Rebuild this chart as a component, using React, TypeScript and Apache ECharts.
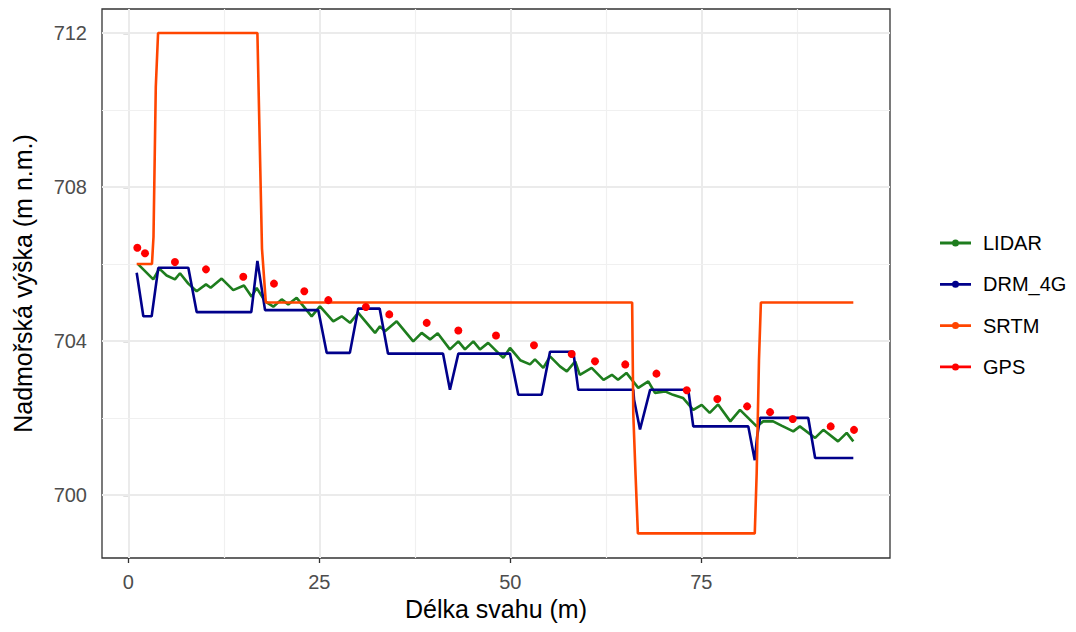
import React, { useEffect, useRef } from "react";
import * as echarts from "echarts";

// Axis breaks
const xMajor = [0, 25, 50, 75];
const xMinor = [12.5, 37.5, 62.5, 87.5];
const yMajor = [700, 704, 708, 712];
const yMinor = [702, 706, 710];

// Slope profile: [distance along slope (m), elevation (m a.s.l.)]
const lidar: [number, number][] = [
  [1.31, 705.99], [3.27, 705.6], [4.06, 705.88], [5.02, 705.7], [6.11, 705.6],
  [6.77, 705.76], [7.85, 705.49], [8.95, 705.29], [10.17, 705.47], [10.78, 705.38],
  [12.22, 705.62], [13.74, 705.32], [15.14, 705.44], [16.15, 705.15], [16.8, 705.38],
  [17.9, 705.03], [18.98, 704.89], [20.08, 705.08], [20.94, 704.95], [22.04, 705.12],
  [24.0, 704.64], [25.09, 704.9], [26.83, 704.51], [27.93, 704.64], [29.02, 704.47],
  [30.1, 704.73], [32.3, 704.21], [32.94, 704.38], [33.6, 704.25], [35.13, 704.51],
  [37.3, 703.99], [38.4, 704.21], [39.5, 704.04], [40.5, 704.2], [42.1, 703.78],
  [43.2, 703.99], [44.07, 703.78], [45.16, 703.99], [46.03, 703.78], [47.1, 703.95],
  [49.08, 703.56], [49.96, 703.82], [51.3, 703.5], [52.58, 703.39], [53.23, 703.52],
  [54.32, 703.3], [55.2, 703.6], [56.5, 703.34], [57.4, 703.21], [58.5, 703.47],
  [59.1, 703.12], [60.65, 703.3], [62.2, 702.99], [63.3, 703.12], [64.1, 702.99],
  [65.2, 703.17], [66.75, 702.78], [68.06, 702.95], [68.94, 702.65], [70.25, 702.69],
  [71.3, 702.6], [72.6, 702.52], [73.95, 702.21], [75.05, 702.34], [76.1, 702.13],
  [77.2, 702.35], [78.8, 701.91], [80.07, 702.21], [82.25, 701.78], [83.1, 701.91],
  [84.4, 701.91], [85.5, 701.8], [87.04, 701.65], [87.9, 701.78], [89.9, 701.48],
  [90.97, 701.69], [92.9, 701.39], [94.03, 701.61], [94.9, 701.39],
];

const drm4g: [number, number][] = [
  [1.1, 705.77], [1.97, 704.64], [3.06, 704.64], [3.93, 705.9], [7.86, 705.9],
  [8.95, 704.75], [16.1, 704.75], [16.9, 706.08], [17.9, 704.8], [24.87, 704.8],
  [25.97, 703.69], [29.0, 703.69], [30.1, 704.84], [32.9, 704.84], [34.0, 703.67],
  [41.2, 703.67], [42.1, 702.73], [43.2, 703.67], [49.96, 703.67], [51.05, 702.6],
  [54.1, 702.6], [55.2, 703.72], [58.25, 703.72], [58.9, 702.73], [66.1, 702.73],
  [66.2, 702.47], [66.98, 701.7], [68.3, 702.73], [73.3, 702.73], [73.95, 701.78],
  [81.15, 701.78], [82.0, 700.9], [82.3, 701.5], [82.7, 702.0], [89.0, 702.0],
  [89.9, 700.96], [94.9, 700.96],
];

const srtm: [number, number][] = [
  [1.1, 706], [3.1, 706], [3.3, 706.7], [3.6, 710.6], [3.9, 712], [16.9, 712],
  [17.5, 706.4], [18.0, 705], [65.95, 705], [66.1, 702.1], [66.4, 700.5],
  [66.7, 699], [82.0, 699], [82.25, 700.56], [82.55, 703.5], [82.8, 705], [94.9, 705],
];

const gps: [number, number][] = [
  [1.18, 706.42], [2.19, 706.28], [6.11, 706.05], [10.17, 705.86], [15.05, 705.67],
  [19.07, 705.49], [23.04, 705.29], [26.18, 705.06], [31.1, 704.88], [34.16, 704.69],
  [39.06, 704.47], [43.2, 704.27], [48.13, 704.14], [53.1, 703.89], [58.04, 703.66],
  [61.09, 703.47], [65.05, 703.39], [69.13, 703.15], [73.1, 702.72], [77.1, 702.49],
  [81.0, 702.3], [84.0, 702.15], [86.97, 701.97], [91.94, 701.78], [94.99, 701.69],
];

const FONT = "'Liberation Sans', Arial, sans-serif";
const LEGEND_ICON =
  "path://M0,2.6L31,2.6L31,5.4L0,5.4Z M15.5,0.5A3.5,3.5,0,1,1,15.5,7.5A3.5,3.5,0,1,1,15.5,0.5Z";

export default function App() {
  const ref = useRef<HTMLDivElement>(null);

  useEffect(() => {
    if (!ref.current) return;
    const chart = echarts.init(ref.current, null, { renderer: "svg" });

    const major = { color: "#EBEBEB", width: 2, type: "solid" };
    const minor = { color: "#F0F0F0", width: 1.2, type: "solid" };
    const gridLines = [
      ...xMajor.map((v) => ({ xAxis: v, lineStyle: major })),
      ...xMinor.map((v) => ({ xAxis: v, lineStyle: minor })),
      ...yMajor.map((v) => ({ yAxis: v, lineStyle: major })),
      ...yMinor.map((v) => ({ yAxis: v, lineStyle: minor })),
    ];

    const lineSeries = (name: string, data: [number, number][], color: string) => ({
      name,
      type: "line",
      data,
      showSymbol: false,
      symbol: "none",
      color,
      lineStyle: { color, width: 2.6 },
      z: 3,
    });

    chart.setOption({
      animation: false,
      backgroundColor: "#ffffff",
      textStyle: { fontFamily: FONT },
      grid: {
        left: 102,
        top: 9,
        width: 788,
        height: 549,
        show: true,
        borderColor: "#333333",
        borderWidth: 1.3,
        backgroundColor: "#ffffff",
        containLabel: false,
        outerBoundsMode: "none",
      },
      legend: {
        orient: "vertical",
        left: 935,
        top: 228,
        itemWidth: 31,
        itemHeight: 7,
        itemGap: 21.3,
        icon: LEGEND_ICON,
        itemStyle: { borderWidth: 0, opacity: 1 },
        textStyle: {
          fontSize: 20,
          color: "#000000",
          fontFamily: FONT,
          lineHeight: 20,
          padding: [0, 0, 0, 7],
        },
        data: ["LIDAR", "DRM_4G", "SRTM", "GPS"],
      },
      xAxis: {
        type: "value",
        min: -3.44,
        max: 99.7,
        name: "Délka svahu (m)",
        nameLocation: "middle",
        nameGap: 38,
        nameTextStyle: { fontSize: 25, color: "#000000", fontFamily: FONT },
        axisLine: { show: false },
        axisTick: {
          show: true,
          length: 5,
          customValues: xMajor,
          lineStyle: { color: "#333333", width: 1.3 },
        },
        axisLabel: {
          customValues: xMajor,
          fontSize: 20,
          color: "#4D4D4D",
          margin: 14,
          fontFamily: FONT,
        },
        splitLine: { show: false },
      },
      yAxis: {
        type: "value",
        min: 698.36,
        max: 712.625,
        name: "Nadmořská výška (m n.m.)",
        nameLocation: "middle",
        nameGap: 67,
        nameRotate: 90,
        nameTextStyle: { fontSize: 25, color: "#000000", fontFamily: FONT },
        axisLine: { show: false },
        axisTick: {
          show: true,
          length: 5,
          customValues: yMajor,
          lineStyle: { color: "#333333", width: 1.3 },
        },
        axisLabel: {
          customValues: yMajor,
          fontSize: 20,
          color: "#4D4D4D",
          margin: 15,
          fontFamily: FONT,
        },
        splitLine: { show: false },
      },
      series: [
        {
          name: "grid",
          type: "line",
          data: [],
          silent: true,
          z: 1,
          markLine: {
            silent: true,
            z: 1,
            symbol: ["none", "none"],
            label: { show: false },
            animation: false,
            data: gridLines,
          },
        },
        lineSeries("LIDAR", lidar, "#1E7D1E"),
        lineSeries("DRM_4G", drm4g, "#00008B"),
        lineSeries("SRTM", srtm, "#FF4500"),
        {
          name: "GPS",
          type: "scatter",
          data: gps,
          symbol: "circle",
          symbolSize: 8,
          color: "#FF0000",
          itemStyle: { color: "#FF0000", opacity: 1 },
          z: 4,
        },
      ],
    });

    return () => chart.dispose();
  }, []);

  return (
    <div
      ref={ref}
      style={{
        position: "fixed",
        left: 0,
        top: 0,
        width: 1076,
        height: 632,
        background: "#ffffff",
      }}
    />
  );
}
